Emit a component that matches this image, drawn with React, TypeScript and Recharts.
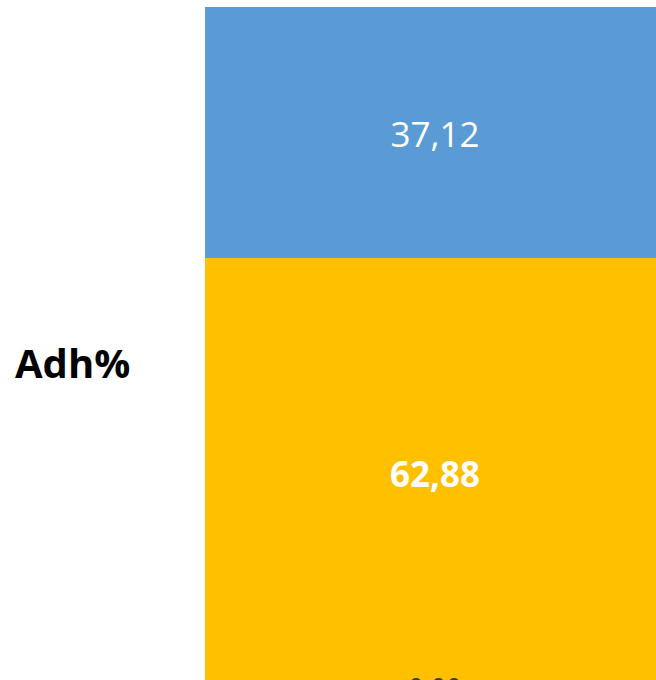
import { BarChart, Bar, XAxis, YAxis, LabelList } from 'recharts'

const categories = ['Adh%']
const zeroValues = [0]
const yellowValues = [62.88]
const blueValues = [37.12]

const data = categories.map((name, i) => ({
  name,
  zero: zeroValues[i],
  yellow: yellowValues[i],
  blue: blueValues[i],
}))

const fmt = (v: unknown) => Number(v).toFixed(2).replace('.', ',')

const font = '"Open Sans", "Noto Sans", sans-serif'

export default function App() {
  return (
    <div
      style={{
        position: 'absolute',
        left: 0,
        top: 0,
        width: 656,
        height: 680,
        overflow: 'hidden',
        background: '#fff',
      }}
    >
      <BarChart
        width={700}
        height={720}
        data={data}
        margin={{ top: 7, right: 35, left: 0, bottom: 37 }}
        barCategoryGap={0}
      >
        <XAxis dataKey="name" hide />
        <XAxis dataKey="name" xAxisId="zero" hide />
        <YAxis
          type="number"
          domain={[0, 100]}
          width={205}
          tick={false}
          tickLine={false}
          axisLine={false}
          label={{
            value: 'Adh%',
            position: 'insideLeft',
            offset: 15,
            dy: 19,
            style: {
              fontFamily: font,
              fontSize: 40,
              fontWeight: 700,
              fill: '#000',
            },
          }}
        />
        <Bar dataKey="yellow" stackId="a" fill="#FFC000" isAnimationActive={false}>
          <LabelList
            dataKey="yellow"
            position="center"
            formatter={fmt}
            dy={4}
            style={{ fontFamily: font, fontSize: 35, fontWeight: 700, fill: '#fff' }}
          />
        </Bar>
        <Bar dataKey="blue" stackId="a" fill="#5B9BD5" isAnimationActive={false}>
          <LabelList
            dataKey="blue"
            position="center"
            formatter={fmt}
            dy={2}
            style={{ fontFamily: font, fontSize: 35, fill: '#fff' }}
          />
        </Bar>
        {/* zero series: own axis so its label sits above the yellow segment */}
        <Bar
          dataKey="zero"
          xAxisId="zero"
          fill="#FFC000"
          minPointSize={1}
          isAnimationActive={false}
        >
          <LabelList
            dataKey="zero"
            position="center"
            formatter={fmt}
            dy={6}
            style={{ fontFamily: font, fontSize: 27, fill: '#404040' }}
          />
        </Bar>
      </BarChart>
    </div>
  )
}
